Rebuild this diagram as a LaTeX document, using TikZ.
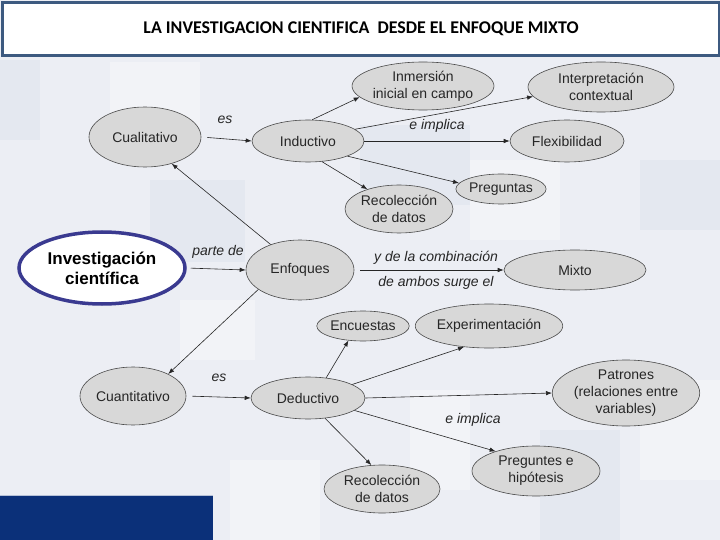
\documentclass[tikz,border=0pt]{standalone}
\usepackage{fontspec}
\setmainfont{Liberation Sans}
\newfontfamily\titlefont{Carlito}
\usetikzlibrary{shapes.geometric,arrows.meta}
\definecolor{bgc}{HTML}{ECEEF4}
\definecolor{bgd}{HTML}{E4E8F0}
\definecolor{bgl}{HTML}{F2F3F7}
\definecolor{frame}{HTML}{3D5A80}
\definecolor{navy}{HTML}{0B3079}
\definecolor{invc}{HTML}{3A3A90}
\definecolor{nodefill}{HTML}{D8D8D8}
\definecolor{nodeline}{HTML}{4A4A4A}
\tikzset{
  concept/.style={ellipse, draw=nodeline, fill=nodefill, line width=0.6pt, inner sep=0pt,
    align=center, font=\fontsize{14}{17}\selectfont, text=black!85},
  link/.style={-{Latex[length=6pt,width=4.5pt]}, line width=0.6pt, draw=black!85},
  lbl/.style={font=\fontsize{14}{17}\selectfont\itshape, text=black!85, inner sep=0pt}
}
\begin{document}
\begin{tikzpicture}[x=1pt,y=-1pt]
\useasboundingbox (0,0) rectangle (720,540);
% background
\fill[bgc] (0,0) rectangle (720,540);
\fill[bgl] (110,62) rectangle (200,128);
\fill[bgd] (150,180) rectangle (245,262);
\fill[bgl] (180,300) rectangle (255,360);
\fill[bgd] (360,125) rectangle (470,205);
\fill[bgl] (470,160) rectangle (560,240);
\fill[bgd] (640,160) rectangle (720,230);
\fill[bgl] (410,390) rectangle (470,490);
\fill[bgd] (540,430) rectangle (620,540);
\fill[bgl] (640,380) rectangle (720,480);
\fill[bgd] (0,60) rectangle (40,140);
\fill[bgl] (230,460) rectangle (320,540);
% bottom-left block
\fill[navy] (0,495) rectangle (213,540);
\draw[white!70!navy, line width=0.8pt] (0,495) -- (213,495);
% title
\node[draw=frame, line width=2.5pt, fill=white, minimum width=717pt, minimum height=53pt,
  inner sep=0pt, anchor=north west, font=\titlefont\bfseries\fontsize{17.9}{20}\selectfont] (title)
  at (1.25,1.25) {LA INVESTIGACION CIENTIFICA \ DESDE EL ENFOQUE MIXTO};
% nodes
\node[concept, minimum width=136pt, minimum height=48pt] (inm) at (423,86) {Inmersión\\inicial en campo};
\node[concept, minimum width=146pt, minimum height=50pt] (interp) at (601,87) {Interpretación\\contextual};
\node[concept, minimum width=112pt, minimum height=60pt] (cual) at (145,137) {Cualitativo};
\node[concept, minimum width=112pt, minimum height=42pt] (induc) at (308,141) {Inductivo};
\node[concept, minimum width=114pt, minimum height=42pt] (flex) at (567,141) {Flexibilidad};
\node[concept, minimum width=80pt, minimum height=30pt] (preg) at (501,189) {Preguntas};
\node[concept, minimum width=108pt, minimum height=48pt] (rec1) at (399,209) {Recolección\\de datos};
\node[ellipse, draw=invc, fill=white, line width=3.5pt, minimum width=166pt, minimum height=72pt,
  inner sep=0pt, align=center, font=\fontsize{17}{20}\selectfont\bfseries] (inv) at (102,268)
  {Investigación\\científica};
\node[concept, minimum width=108pt, minimum height=60pt] (enf) at (300,270) {Enfoques};
\node[concept, minimum width=142pt, minimum height=40pt] (mixto) at (575,270) {Mixto};
\node[concept, minimum width=78pt, minimum height=30pt] (enc) at (363,326) {Encuestas};
\node[concept, minimum width=126pt, minimum height=44pt] (exp) at (489,326) {Experimentación};
\node[concept, minimum width=106pt, minimum height=58pt] (cuan) at (133,396) {Cuantitativo};
\node[concept, minimum width=114pt, minimum height=42pt] (ded) at (308,398) {Deductivo};
\node[concept, minimum width=136pt, minimum height=66pt] (pat) at (626,393) {Patrones\\(relaciones entre\\variables)};
\node[concept, minimum width=128pt, minimum height=50pt] (prehip) at (536,471) {Preguntes e\\hipótesis};
\node[concept, minimum width=116pt, minimum height=48pt] (rec2) at (382,489) {Recolección\\de datos};
% connectors
\draw[link, shorten <=6pt] (cual.east) -- (induc.west);
\draw[link] (induc.79) -- (inm.190);
\draw[link] (induc.14) -- (interp.188);
\draw[link] (induc.east) -- (flex.west);
\draw[link] (induc.-21) -- (preg.172);
\draw[link] (induc.-56) -- (rec1.148);
\draw[link] (enf.139) -- (cual.-45);
\draw[link] (enf.205) -- (cuan.32);
\draw[link, shorten <=4pt] (inv.east) -- (enf.west);
\draw[link, shorten <=6pt] (enf.east) -- (mixto.west);
\draw[link, shorten <=6pt] (cuan.east) -- (ded.west);
\draw[link] (ded.48) -- (enc.225);
\draw[link] (ded.17) -- (exp.220);
\draw[link] (ded.east) -- (pat.west);
\draw[link] (ded.-15) -- (prehip.154);
\draw[link] (ded.-50) -- (rec2.114);
% labels
\node[lbl] (l1) at (225,120) {es};
\node[lbl] (l2) at (437,126) {e implica};
\node[lbl] (l3) at (218,252) {parte de};
\node[lbl] (l4) at (436,258) {y de la combinación};
\node[lbl] (l5) at (436,283) {de ambos surge el};
\node[lbl] (l6) at (219,378) {es};
\node[lbl] (l7) at (473,420) {e implica};
\end{tikzpicture}
\end{document}
